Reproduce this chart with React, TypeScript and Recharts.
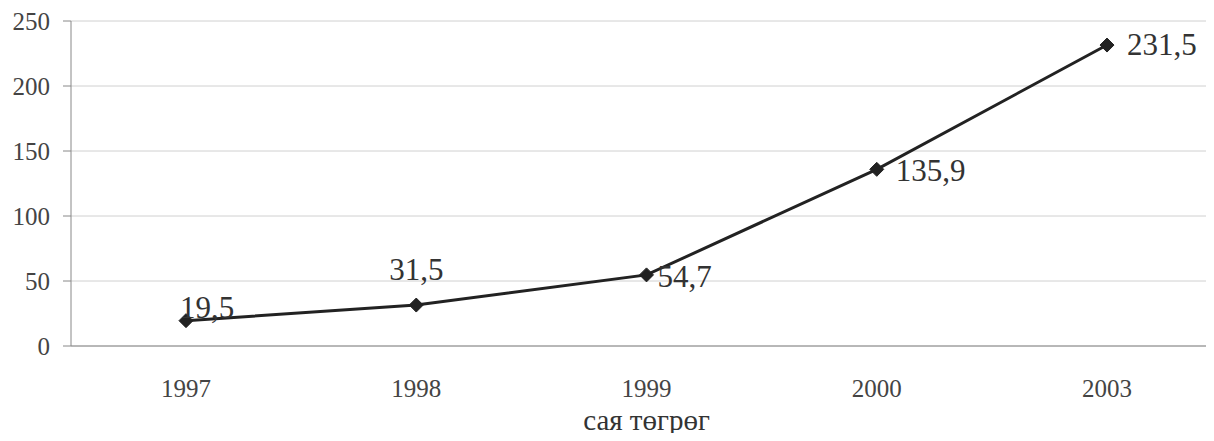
import { LineChart, Line, XAxis, YAxis, CartesianGrid, LabelList } from "recharts"

const years = ["1997", "1998", "1999", "2000", "2003"]
const amounts = [19.5, 31.5, 54.7, 135.9, 231.5]
const yTicks = [0, 50, 100, 150, 200, 250]

const data = years.map((year, i) => ({ year, value: amounts[i] }))

const FONT = "'Liberation Serif', 'Times New Roman', serif"

// label offsets per point
const labelPos = [
  { dx: -6, dy: -3, anchor: "start" },
  { dx: 0, dy: -25, anchor: "middle" },
  { dx: 11, dy: 12, anchor: "start" },
  { dx: 19, dy: 12, anchor: "start" },
  { dx: 20, dy: 10, anchor: "start" },
]

const Diamond = ({ cx, cy }: any) => {
  const r = 7
  return (
    <path
      d={`M${cx},${cy - r} L${cx + r},${cy} L${cx},${cy + r} L${cx - r},${cy} Z`}
      fill="#222"
      stroke="#222"
    />
  )
}

const renderValueLabel = ({ x, y, value, index }: any) => {
  const p = labelPos[index]
  return (
    <text x={x + p.dx} y={y + p.dy} fill="#333" fontSize={31} fontFamily={FONT} textAnchor={p.anchor}>
      {String(value).replace(".", ",")}
    </text>
  )
}

export default function App() {
  return (
    <div style={{ margin: -8, width: 1214, height: 441, overflow: "hidden", background: "#fff" }}>
      <LineChart width={1222} height={441} data={data} margin={{ top: 21, right: 0, bottom: 0, left: 0 }}>
        <CartesianGrid vertical={false} stroke="#d0d0d0" />
        <XAxis
          dataKey="year"
          height={95}
          padding={{ left: 115, right: 115 }}
          tickLine={false}
          axisLine={{ stroke: "#888" }}
          tickMargin={27}
          tick={{ fill: "#444", fontSize: 25, fontFamily: FONT }}
          label={{
            value: "сая төгрөг",
            position: "insideBottom",
            offset: 11,
            fill: "#333",
            fontSize: 29,
            fontFamily: FONT,
          }}
        />
        <YAxis
          width={71}
          domain={[0, 250]}
          ticks={yTicks}
          tickSize={8}
          tickMargin={13}
          tickLine={{ stroke: "#888" }}
          axisLine={{ stroke: "#888" }}
          tick={{ fill: "#444", fontSize: 25, fontFamily: FONT }}
        />
        <Line
          type="linear"
          dataKey="value"
          stroke="#222"
          strokeWidth={3}
          dot={<Diamond />}
          activeDot={false}
          isAnimationActive={false}
        >
          <LabelList dataKey="value" content={renderValueLabel} />
        </Line>
      </LineChart>
    </div>
  )
}
